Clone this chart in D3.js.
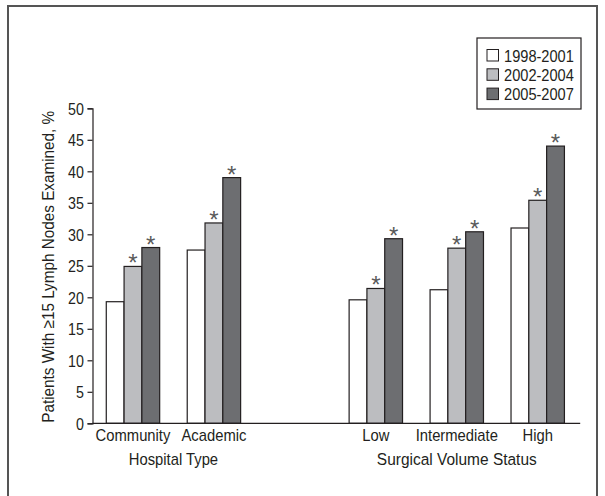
<!DOCTYPE html>
<html>
<head>
<meta charset="utf-8">
<script src="https://cdn.jsdelivr.net/npm/d3@7"></script>
<style>
  body { margin: 0; background: #fff; }
  svg { display: block; }
  text { font-family: "Liberation Sans", Arial, sans-serif; fill: #231f20; }
</style>
</head>
<body>
<div id="chart"></div>
<script>
// data
var hospitalTypes = ['Community', 'Academic'];
var volumeStatus = ['Low', 'Intermediate', 'High'];
var periods = ['1998-2001', '2002-2004', '2005-2007'];
var values1998 = [19.3, 27.5, 19.6, 21.2, 31.0];
var values2002 = [24.9, 31.8, 21.4, 27.8, 35.4];
var values2005 = [27.9, 39.0, 29.3, 30.4, 44.0];
// asterisk = significant vs 1998-2001
var signif2002 = [true, true, true, true, true];
var signif2005 = [true, true, true, true, true];
var yTicks = [0, 5, 10, 15, 20, 25, 30, 35, 40, 45, 50];

var width = 605, height = 496;
var fills = ['#ffffff', '#bcbdc0', '#6d6e71'];
var font_size = 17;
// the figure uses a condensed face, so squeeze Liberation Sans
var narrow = 0.87;
var narrow_num = 0.84;

var categories = hospitalTypes.concat(volumeStatus);
var series = [values1998, values2002, values2005];
var signif = [null, signif2002, signif2005];

var svg = d3.select('#chart')
  .append('svg')
    .attr('width', width)
    .attr('height', height);

function label(parent, txt, x, y, anchor, rot, sx) {
  return parent.append('text')
    .attr('transform', 'translate(' + x + ',' + y + ')' + (rot ? ' rotate(' + rot + ')' : '') + ' scale(' + (sx || narrow) + ',1)')
    .attr('text-anchor', anchor || 'middle')
    .attr('font-size', font_size)
    .text(txt);
}

// outer frame
svg.append('rect')
  .attr('x', 8).attr('y', 6)
  .attr('width', 589).attr('height', 520)
  .attr('fill', 'none')
  .attr('stroke', '#555')
  .attr('stroke-width', 2);

// x: one slot per category, with an empty slot between the two groups
var x0 = d3.scaleBand()
  .domain(hospitalTypes.concat(['gap'], volumeStatus))
  .range([92.5, 578.2])
  .padding(0);

var x1 = d3.scaleBand()
  .domain(periods)
  .range([0, 53.4]);

var y = d3.scaleLinear()
  .domain([0, 50])
  .range([423.3, 108.3]);

// bars
var rows = [];
categories.forEach(function(c, i) {
  periods.forEach(function(p, j) {
    rows.push({cat: c, period: p, j: j, value: series[j][i], star: j > 0 && signif[j][i]});
  });
});

var offset = (x0.bandwidth() - 53.4) / 2;

svg.append('g').selectAll('rect')
  .data(rows)
  .enter()
  .append('rect')
    .attr('x', function(d) { return x0(d.cat) + offset + x1(d.period); })
    .attr('y', function(d) { return y(d.value); })
    .attr('width', x1.bandwidth())
    .attr('height', function(d) { return y(0) - y(d.value); })
    .attr('fill', function(d) { return fills[d.j]; })
    .attr('stroke', '#231f20')
    .attr('stroke-width', 1.2);

// asterisks
svg.append('g').selectAll('text')
  .data(rows.filter(function(d) { return d.star; }))
  .enter()
  .append('text')
    .attr('x', function(d) { return x0(d.cat) + offset + x1(d.period) + x1.bandwidth() / 2; })
    .attr('y', function(d) { return y(d.value) + 5; })
    .attr('text-anchor', 'middle')
    .attr('font-size', 24)
    .style('fill', '#5a5a5a')
    .text('*');

// y axis
var yAxis = svg.append('g')
  .attr('transform', 'translate(92.5,0)')
  .call(d3.axisLeft(y).tickValues(yTicks).tickSize(5).tickPadding(3));
yAxis.select('.domain').attr('stroke', '#231f20').attr('stroke-width', 1.2);
yAxis.selectAll('.tick line').attr('stroke', '#231f20').attr('stroke-width', 1.2);
yAxis.selectAll('.tick text')
  .attr('x', null)
  .attr('dy', '0.36em')
  .attr('transform', 'translate(-8.5,0) scale(' + narrow_num + ',1)')
  .attr('font-size', font_size)
  .attr('font-family', null)
  .style('fill', '#231f20');

// x axis baseline + category labels
svg.append('line')
  .attr('x1', x0.range()[0]).attr('x2', x0.range()[1] + 2)
  .attr('y1', y(0)).attr('y2', y(0))
  .attr('stroke', '#231f20')
  .attr('stroke-width', 1.2);

categories.forEach(function(c) {
  label(svg, c, x0(c) + x0.bandwidth() / 2, 441);
});

// group titles
label(svg, 'Hospital Type', (x0(hospitalTypes[0]) + x0(hospitalTypes[1]) + x0.bandwidth()) / 2, 465);
label(svg, 'Surgical Volume Status', x0(volumeStatus[1]) + x0.bandwidth() / 2, 465, 'middle', 0, 0.91);

// y label
label(svg, 'Patients With \u226515 Lymph Nodes Examined, %', 54, (y(0) + y(50)) / 2 + 1, 'middle', -90, 0.9);

// legend
var legend = svg.append('g').attr('transform', 'translate(477,38)');
legend.append('rect')
  .attr('width', 104).attr('height', 71)
  .attr('fill', '#fff')
  .attr('stroke', '#231f20')
  .attr('stroke-width', 1.2);

var legendRow = legend.selectAll('.legendRow')
  .data(periods)
  .enter()
  .append('g')
    .attr('class', 'legendRow')
    .attr('transform', function(d, i) { return 'translate(10,' + (11.5 + i * 19.3) + ')'; });

legendRow.append('rect')
  .attr('width', 11.5).attr('height', 11.5)
  .attr('fill', function(d, i) { return fills[i]; })
  .attr('stroke', '#231f20')
  .attr('stroke-width', 1);

legendRow.each(function(d) {
  label(d3.select(this), d, 17, 12, 'start', 0, narrow_num + 0.02);
});
</script>
</body>
</html>
